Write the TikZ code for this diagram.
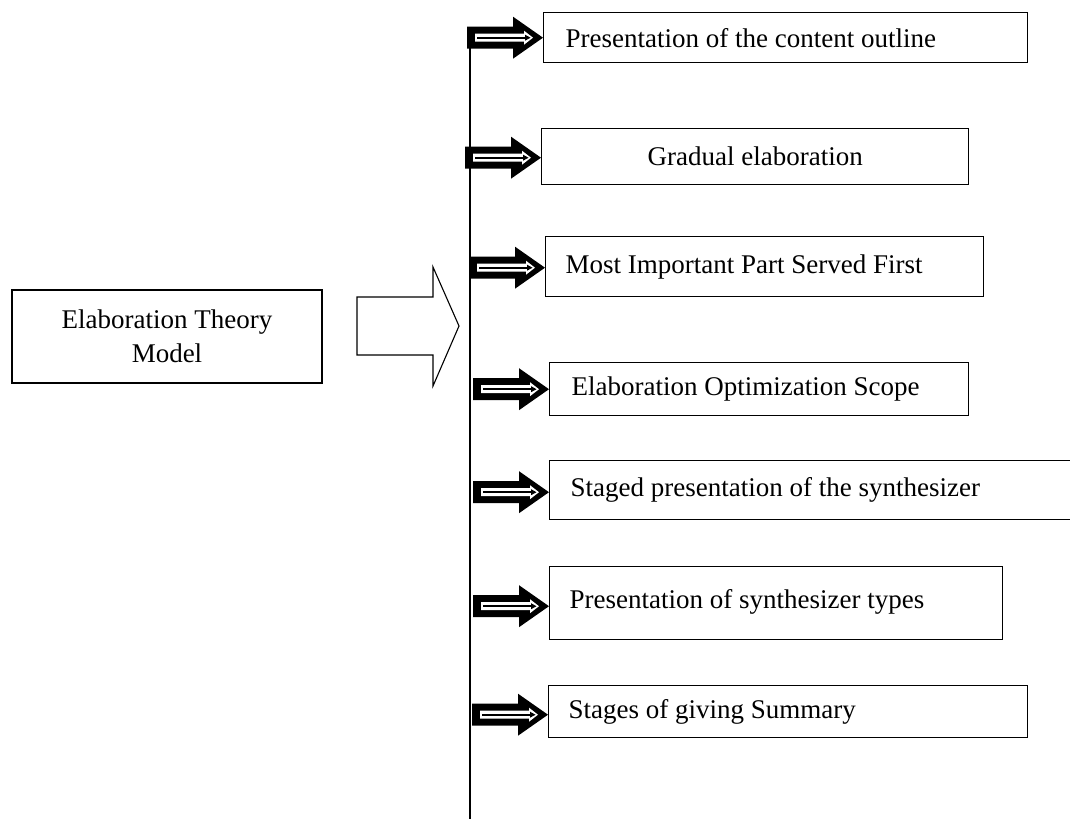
\documentclass[tikz,border=0pt]{standalone}
\usepackage{fontspec}
\setmainfont{Liberation Serif}
\begin{document}
\begin{tikzpicture}[x=1pt,y=-1pt,
  box/.style={draw=black, line width=1.4pt, fill=white, inner sep=0pt, anchor=north west,
    font=\fontsize{27}{34}\selectfont},
  fatarrow/.pic={
    \fill[black] (-76,-11) -- (-30,-11) -- (-30,-21) -- (0,0) -- (-30,21) -- (-30,11) -- (-76,11) -- cycle;
    \fill[white] (-68,-4) -- (-19,-4) -- (-19,-7) -- (-10,0) -- (-19,7) -- (-19,4) -- (-68,4) -- cycle;
    \draw[black, line width=2pt] (-66,0) -- (-15,0);
    \fill[black] (-18,-3) -- (-12.5,0) -- (-18,3) -- cycle;
  }]
\useasboundingbox (0,0) rectangle (1070,819);
% vertical spine
\coordinate (top) at (470,36);
\coordinate (bot) at (470,819);
\draw[line width=1.6pt] (top) -- (bot);
% left box
\node[draw=black, line width=1.4pt, minimum width=310pt, minimum height=93pt, align=center,
  font=\fontsize{27}{34}\selectfont] (etm) at (167,336.5) {Elaboration Theory\\Model};
% hollow block arrow
\draw[line width=1.1pt, fill=white] (357,297) -- (433,297) -- (433,267) -- (459,326) -- (433,386) -- (433,355) -- (357,355) -- cycle;
% boxes
\node[box, minimum width=484pt, minimum height=50pt] (b1) at (543,12) {\makebox[440pt][l]{Presentation of the content outline}};
\node[box, minimum width=427pt, minimum height=56pt] (b2) at (541,128) {\makebox[411pt]{Gradual elaboration}};
\node[box, minimum width=438pt, minimum height=60pt] (b3) at (545,236) {\raisebox{2pt}{\makebox[398pt][l]{Most Important Part Served First}}};
\node[box, minimum width=419pt, minimum height=53pt] (b4) at (549,362) {\makebox[375pt][l]{Elaboration Optimization Scope}};
\node[box, minimum width=521pt, minimum height=59pt] (b5) at (549,460) {\raisebox{3pt}{\makebox[479pt][l]{Staged presentation of the synthesizer}}};
\node[box, minimum width=453pt, minimum height=73pt] (b6) at (549,566) {\raisebox{8pt}{\makebox[413pt][l]{Presentation of synthesizer types}}};
\node[box, minimum width=479pt, minimum height=52pt] (b7) at (548,685) {\makebox[439pt][l]{Stages of giving Summary}};
% fat arrows
\pic at (b1.west) {fatarrow};
\pic at ([yshift=-1pt]b2.west) {fatarrow};
\pic at ([yshift=-1pt]b3.west) {fatarrow};
\pic at (b4.west) {fatarrow};
\pic at ([yshift=-2pt]b5.west) {fatarrow};
\pic at ([yshift=-3pt]b6.west) {fatarrow};
\pic at ([yshift=-3pt]b7.west) {fatarrow};
\end{tikzpicture}
\end{document}
